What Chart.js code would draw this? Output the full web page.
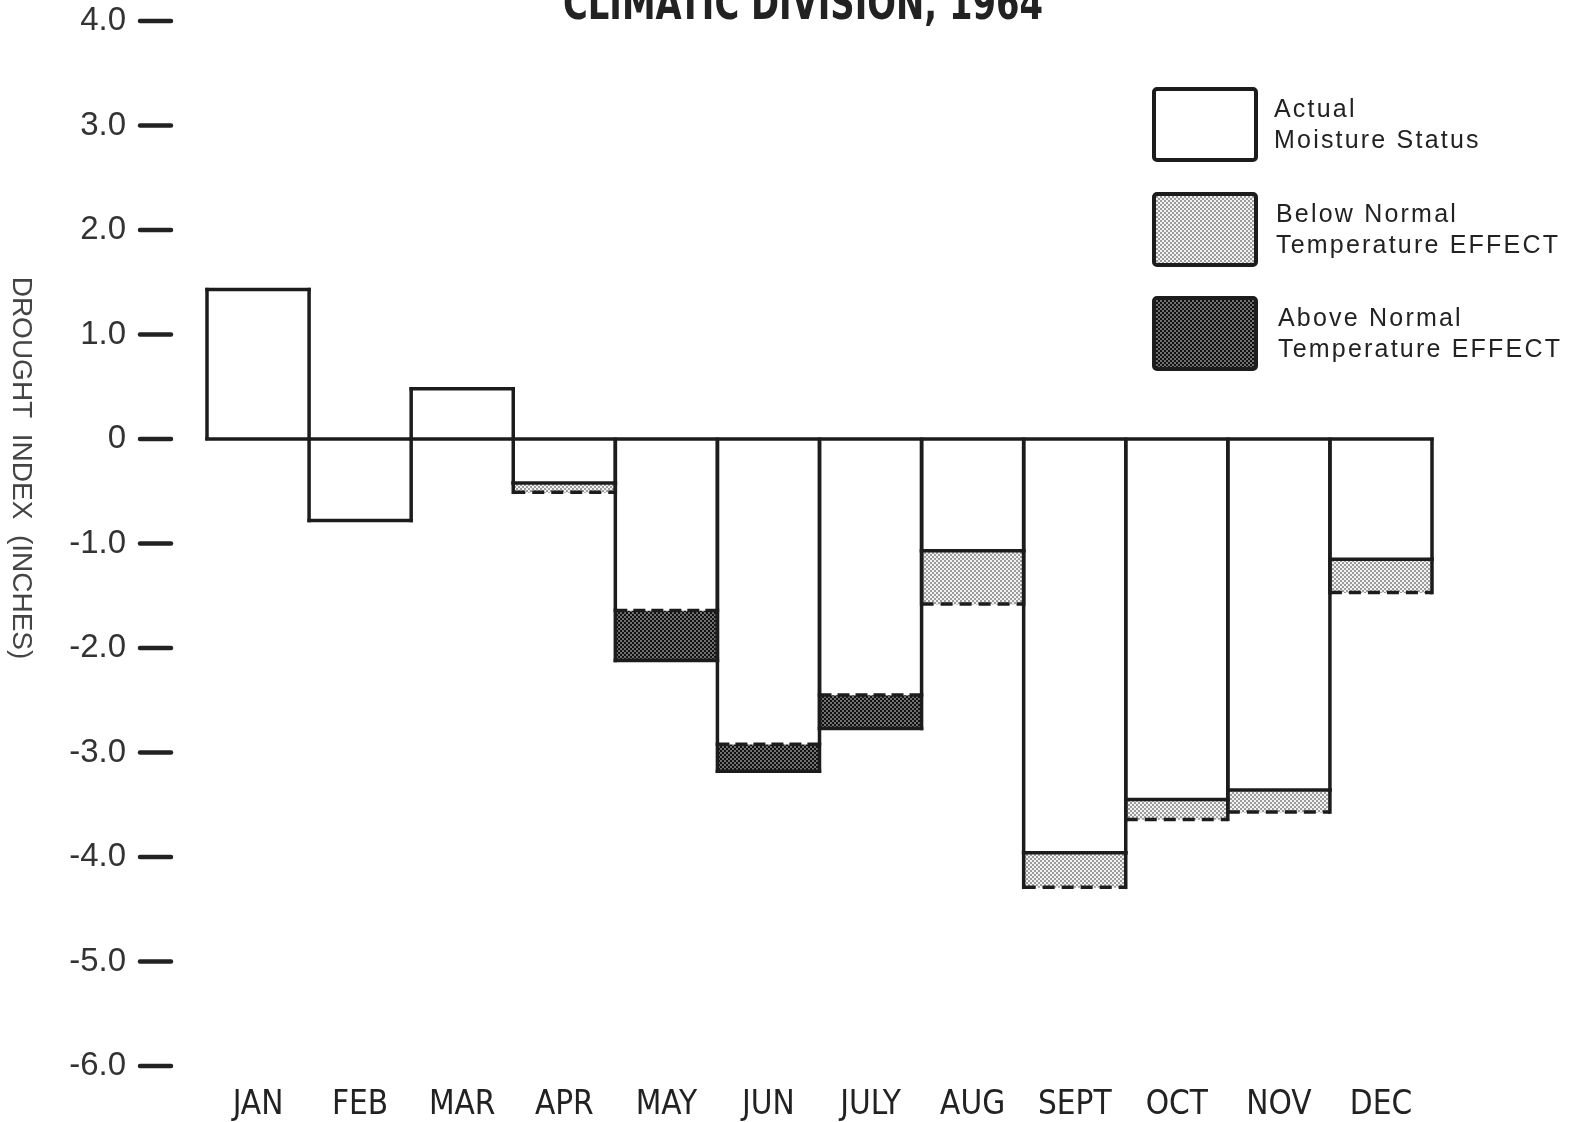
<!DOCTYPE html>
<html><head><meta charset="utf-8">
<script src="https://cdn.jsdelivr.net/npm/chart.js@4.4.1/dist/chart.umd.min.js"></script>
<style>html,body{margin:0;padding:0;background:#fff;} canvas{display:block;}</style>
</head><body>
<canvas id="c" width="1573" height="1122"></canvas>
<script>
// ---- data ----
const months = ['JAN','FEB','MAR','APR','MAY','JUN','JULY','AUG','SEPT','OCT','NOV','DEC'];
const actualStatus = [1.43,-0.78,0.48,-0.42,-1.64,-2.92,-2.45,-1.07,-3.96,-3.45,-3.36,-1.15];
const belowNormalEffect = [null,null,null,-0.09,null,null,null,-0.51,-0.33,-0.19,-0.21,-0.32];
const aboveNormalEffect = [null,null,null,null,-0.48,-0.26,-0.32,null,null,null,null,null];
const yTickValues = [4,3,2,1,0,-1,-2,-3,-4,-5,-6];
const yTickLabels = ['4.0','3.0','2.0','1.0','0','-1.0','-2.0','-3.0','-4.0','-5.0','-6.0'];
const legendLines = [['Actual','Moisture Status'],['Below Normal','Temperature EFFECT'],['Above Normal','Temperature EFFECT']];
const chartTitle = 'CLIMATIC DIVISION, 1964';
const yAxisTitle = 'DROUGHT  INDEX  (INCHES)';

// ---- styles ----
const NARROW = '"Liberation Sans Narrow", "DejaVu Sans Condensed", "Arial Narrow", sans-serif';
const SANS = '"Liberation Sans", Arial, sans-serif';
function makePattern(a, b){
  const c = document.createElement('canvas'); c.width = 4; c.height = 4;
  const x = c.getContext('2d');
  x.fillStyle = a; x.fillRect(0,0,4,4);
  x.fillStyle = b; x.fillRect(0,0,2,2); x.fillRect(2,2,2,2);
  return document.getElementById('c').getContext('2d').createPattern(c,'repeat');
}
const lightFill = makePattern('#f2f2f2','#9c9c9c');
const darkFill = makePattern('#111111','#707070');
const fills = ['#ffffff', lightFill, darkFill];
const INK = '#1c1c1c';

const decorPlugin = {
  id: 'decor',
  afterDatasetsDraw(chart){
    const ctx = chart.ctx, ys = chart.scales.y;
    const m0 = chart.getDatasetMeta(0), m1 = chart.getDatasetMeta(1), m2 = chart.getDatasetMeta(2);
    ctx.save();
    ctx.strokeStyle = INK; ctx.lineWidth = 3.5;
    const line = (x1,y1,x2,y2,dash) => {
      ctx.setLineDash(dash || []); ctx.lineCap = dash ? 'butt' : 'square';
      ctx.beginPath(); ctx.moveTo(x1,y1); ctx.lineTo(x2,y2); ctx.stroke();
    };
    months.forEach((mm,i) => {
      const e = m0.data[i]; const l = e.x - e.width/2, r = e.x + e.width/2;
      const hasAbove = aboveNormalEffect[i] != null;
      line(l,e.base,l,e.y); line(r,e.base,r,e.y);
      if (belowNormalEffect[i] != null) {
        const g = m1.data[i];
        line(l,g.base,l,g.y); line(r,g.base,r,g.y);
        line(l,e.y,r,e.y);
        line(l,g.y,r,g.y,[12,7]);
      } else if (hasAbove) {
        const g = m2.data[i];
        line(l,g.base,l,g.y); line(r,g.base,r,g.y);
        line(l,g.y,r,g.y);
        line(l,e.y,r,e.y,[12,6]);
      } else {
        line(l,e.y,r,e.y);
      }
    });
    const z = ys.getPixelForValue(0);
    const f = m0.data[0], la = m0.data[months.length-1];
    line(f.x - f.width/2, z, la.x + la.width/2, z);
    ctx.restore();
  },
  afterDraw(chart){
    const ctx = chart.ctx, ys = chart.scales.y;
    ctx.save();
    // y tick dashes
    ctx.strokeStyle = '#222'; ctx.lineWidth = 4.5; ctx.lineCap = 'round'; ctx.setLineDash([]);
    yTickValues.forEach(v => {
      const p = ys.getPixelForValue(v);
      ctx.beginPath(); ctx.moveTo(140,p); ctx.lineTo(171,p); ctx.stroke();
    });
    // title (cut at top)
    ctx.fillStyle = '#222';
    ctx.font = 'bold 46px ' + NARROW;
    ctx.textAlign = 'left'; ctx.textBaseline = 'alphabetic';
    const w = ctx.measureText(chartTitle).width;
    ctx.save(); ctx.translate(563, 19); ctx.scale(480 / w, 1);
    ctx.fillText(chartTitle, 0, 0); ctx.restore();
    // y axis title, rotated clockwise
    ctx.save();
    ctx.translate(13, 468); ctx.rotate(Math.PI/2);
    ctx.font = '28px ' + SANS; ctx.fillStyle = '#444';
    ctx.textAlign = 'center'; ctx.textBaseline = 'alphabetic';
    ctx.fillText(yAxisTitle, 0, 0);
    ctx.restore();
    // legend
    const boxTops = [89, 194, 298];
    const textX = [1274, 1276, 1278];
    legendLines.forEach((lines, i) => {
      const t = boxTops[i];
      ctx.fillStyle = fills[i];
      ctx.beginPath(); ctx.roundRect(1154, t, 102, 71, 3); ctx.fill();
      ctx.strokeStyle = INK; ctx.lineWidth = 4; ctx.setLineDash([]);
      ctx.beginPath(); ctx.roundRect(1154, t, 102, 71, 3); ctx.stroke();
      ctx.fillStyle = '#222'; ctx.font = '25px ' + SANS;
      ctx.letterSpacing = '2.2px';
      ctx.textAlign = 'left'; ctx.textBaseline = 'alphabetic';
      lines.forEach((s, k) => ctx.fillText(s, textX[i], t + 28 + k * 31));
      ctx.letterSpacing = '0px';
    });
    ctx.restore();
  }
};

new Chart(document.getElementById('c'), {
  type: 'bar',
  data: {
    labels: months,
    datasets: [
      { label: 'Actual Moisture Status', data: actualStatus, backgroundColor: fills[0], borderWidth: 0 },
      { label: 'Below Normal Temperature EFFECT', data: belowNormalEffect, backgroundColor: fills[1], borderWidth: 0 },
      { label: 'Above Normal Temperature EFFECT', data: aboveNormalEffect, backgroundColor: fills[2], borderWidth: 0 }
    ]
  },
  options: {
    responsive: false,
    animation: false,
    devicePixelRatio: 1,
    layout: { padding: { left: 0, top: 21, right: 141, bottom: 0 } },
    datasets: { bar: { categoryPercentage: 1, barPercentage: 1 } },
    plugins: { legend: { display: false }, tooltip: { enabled: false }, title: { display: false } },
    scales: {
      x: {
        stacked: true,
        grid: { display: false, drawTicks: false },
        border: { display: false },
        ticks: { color: '#222', font: { family: NARROW, size: 33 }, padding: 20, maxRotation: 0, autoSkip: false },
        afterFit(s){ s.height = 56; }
      },
      y: {
        stacked: true,
        min: -6, max: 4,
        grid: { display: true, drawOnChartArea: false, drawTicks: true, tickLength: 81, tickColor: 'rgba(0,0,0,0)' },
        border: { display: false },
        ticks: {
          stepSize: 1, color: '#333', padding: 0,
          font: { family: SANS, size: 33 },
          callback: (v) => { const i = yTickValues.indexOf(v); return i >= 0 ? yTickLabels[i] : ''; }
        },
        afterFit(s){ s.width = 207; }
      }
    }
  },
  plugins: [decorPlugin]
});
</script>
</body></html>
